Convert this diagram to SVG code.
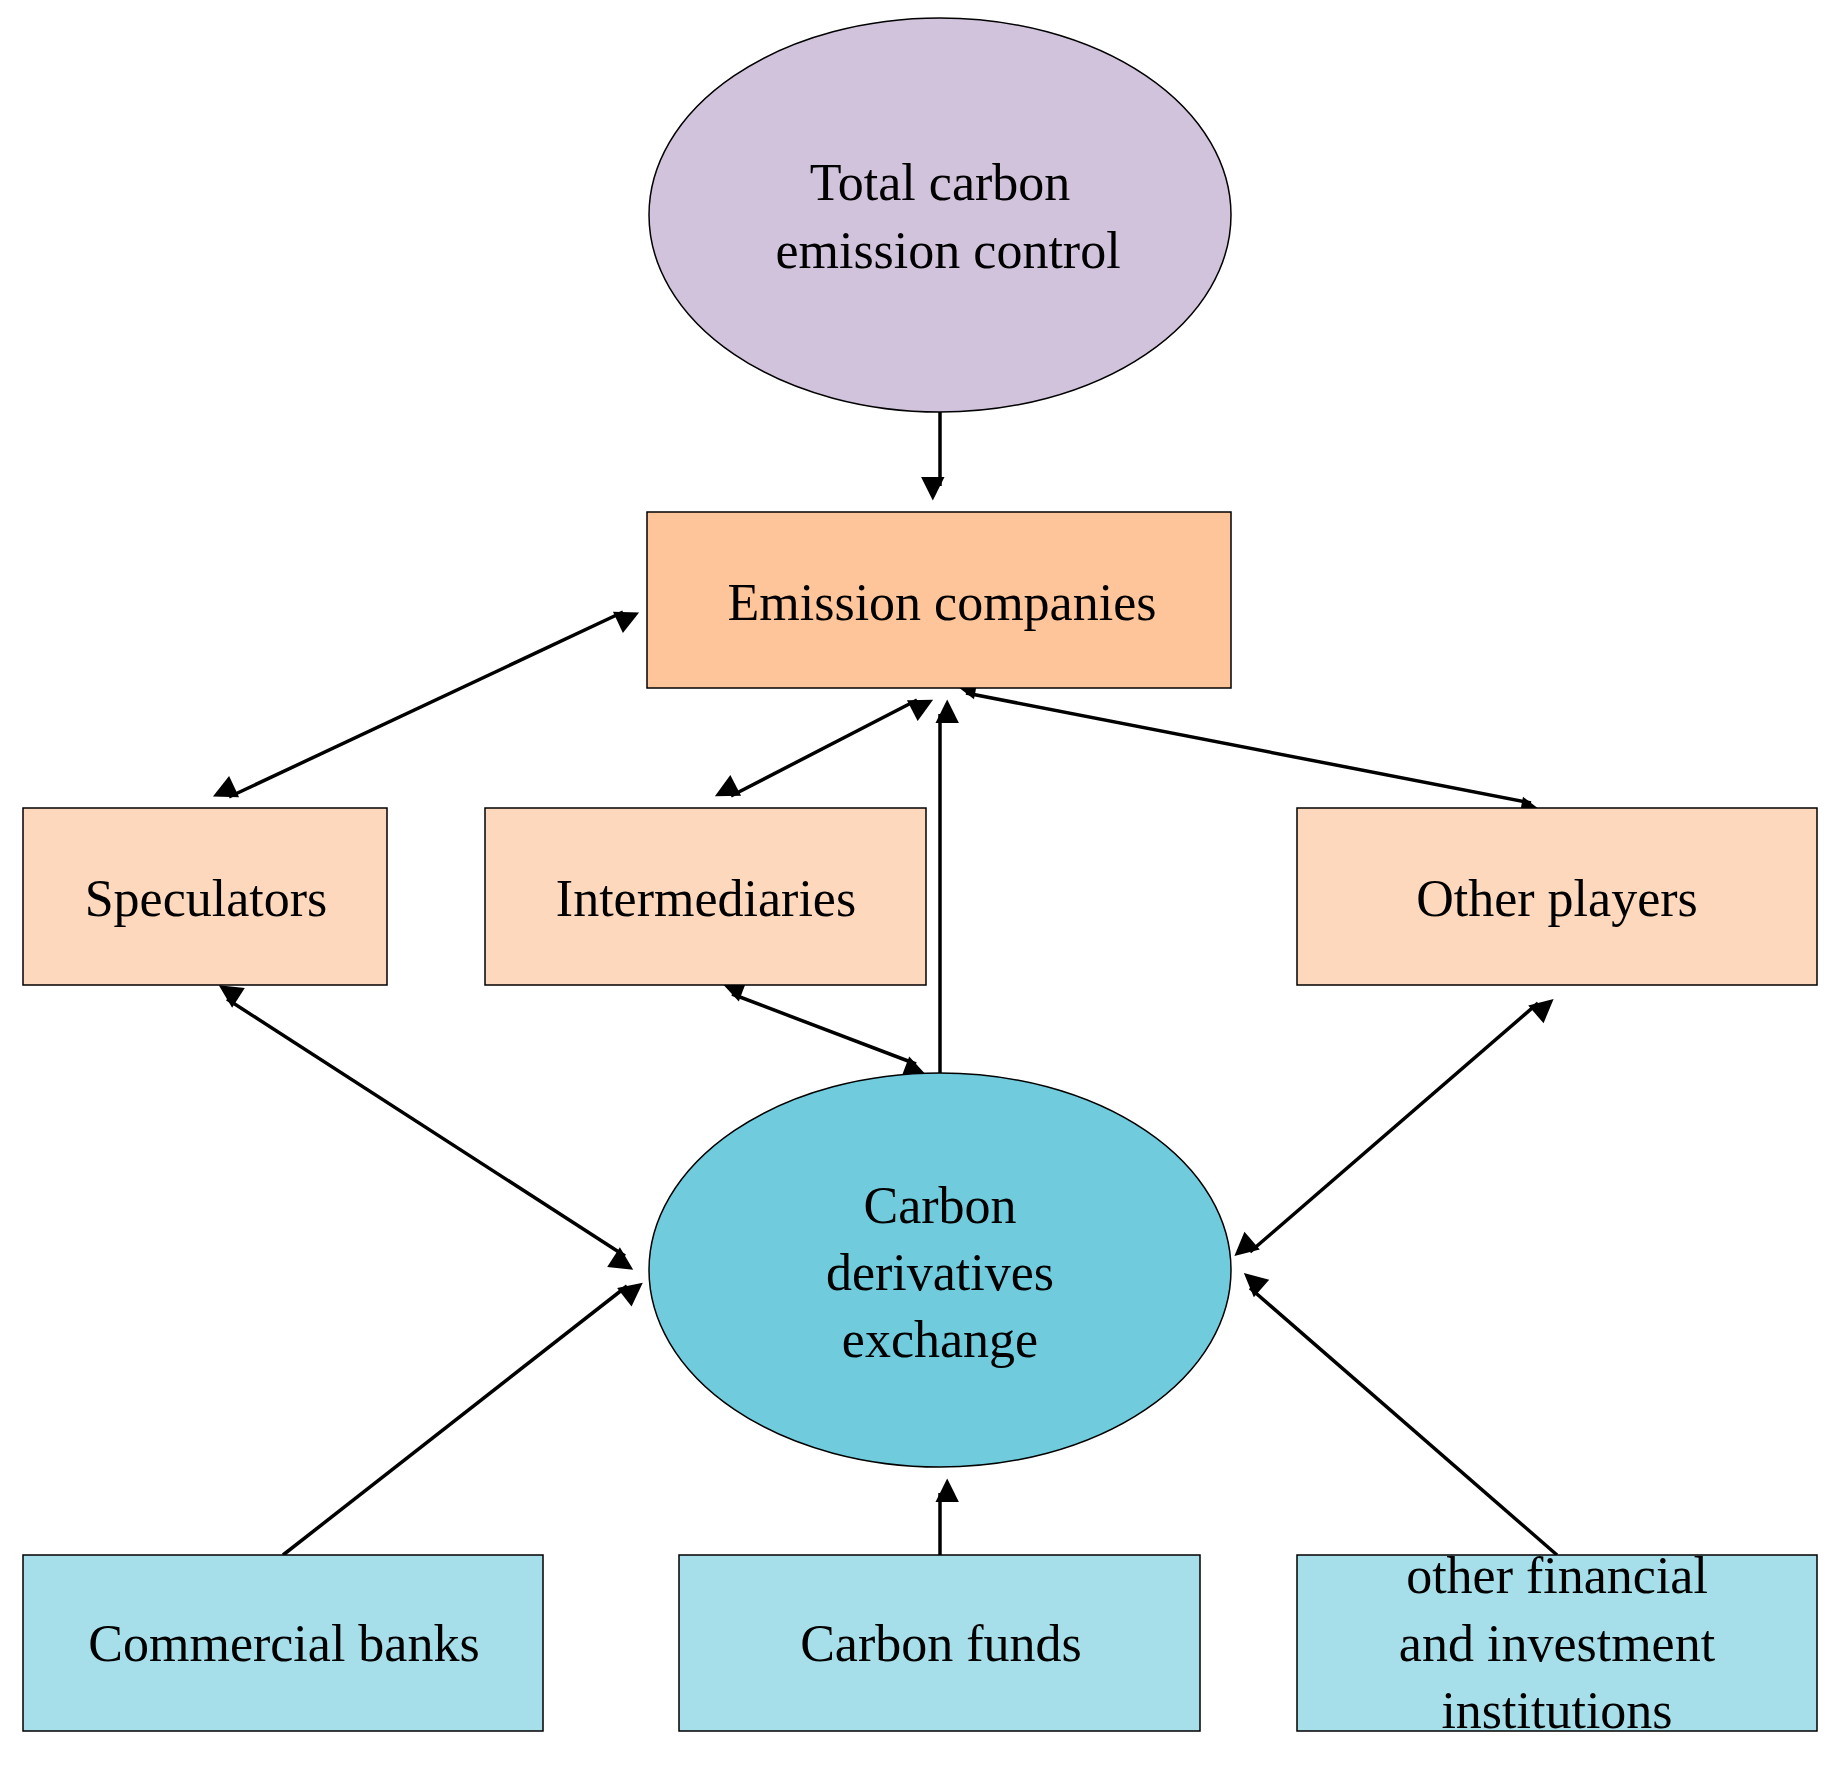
<svg xmlns="http://www.w3.org/2000/svg" width="1841" height="1766" viewBox="0 0 1841 1766">
<defs>
<marker id="ah" viewBox="0 0 10 10" refX="10" refY="5" markerWidth="9" markerHeight="9" orient="auto-start-reverse" markerUnits="userSpaceOnUse" style="overflow:visible">
<path d="M0,0 L10,5 L0,10 z" fill="#000" transform="scale(2.6) translate(-0,0)"/>
</marker>
</defs>
<style>
.n{stroke:#000;stroke-width:1.5}
.t{font-family:"Liberation Serif",serif;font-size:52px;text-anchor:middle;fill:#000}
.c{stroke:#000;stroke-width:3.5;fill:none}
</style>
<rect width="1841" height="1766" fill="#fff"/>
<g id="connectors">
<line class="c" x1="940" y1="412" x2="940" y2="486" marker-end="url(#ah)"/>
<line class="c" x1="229" y1="797" x2="623" y2="612" marker-start="url(#ah)" marker-end="url(#ah)"/>
<line class="c" x1="731" y1="796" x2="917" y2="700" marker-start="url(#ah)" marker-end="url(#ah)"/>
<line class="c" x1="1531" y1="803" x2="966" y2="693" marker-start="url(#ah)" marker-end="url(#ah)"/>
<line class="c" x1="940" y1="1073" x2="940" y2="714" marker-end="url(#ah)"/>
<line class="c" x1="227" y1="999" x2="625" y2="1256" marker-start="url(#ah)" marker-end="url(#ah)"/>
<line class="c" x1="732" y1="994" x2="916" y2="1064" marker-start="url(#ah)" marker-end="url(#ah)"/>
<line class="c" x1="1538" y1="1003" x2="1250" y2="1252" marker-start="url(#ah)" marker-end="url(#ah)"/>
<line class="c" x1="283" y1="1555" x2="627" y2="1286" marker-end="url(#ah)"/>
<line class="c" x1="940" y1="1555" x2="940" y2="1493" marker-end="url(#ah)"/>
<line class="c" x1="1557" y1="1555" x2="1250" y2="1288" marker-end="url(#ah)"/>
</g>
<g id="total"><ellipse class="n" cx="940" cy="215" rx="291" ry="197" fill="#d1c3dc"/><text class="t" x="940" y="200">Total carbon</text><text class="t" x="948" y="268">emission control</text></g>
<g id="emission"><rect class="n" x="647" y="512" width="584" height="176" fill="#fec49a"/><text class="t" x="942" y="620">Emission companies</text></g>
<g id="speculators"><rect class="n" x="23" y="808" width="364" height="177" fill="#fdd8bc"/><text class="t" x="206" y="916">Speculators</text></g>
<g id="intermediaries"><rect class="n" x="485" y="808" width="441" height="177" fill="#fdd8bc"/><text class="t" x="706" y="916">Intermediaries</text></g>
<g id="other"><rect class="n" x="1297" y="808" width="520" height="177" fill="#fdd8bc"/><text class="t" x="1557" y="916">Other players</text></g>
<g id="exchange"><ellipse class="n" cx="940" cy="1270" rx="291" ry="197" fill="#70ccdd"/><text class="t" x="940" y="1223">Carbon</text><text class="t" x="940" y="1290">derivatives</text><text class="t" x="940" y="1357">exchange</text></g>
<g id="banks"><rect class="n" x="23" y="1555" width="520" height="176" fill="#a6dfe9"/><text class="t" x="284" y="1661">Commercial banks</text></g>
<g id="funds"><rect class="n" x="679" y="1555" width="521" height="176" fill="#a6dfe9"/><text class="t" x="941" y="1661">Carbon funds</text></g>
<g id="otherfin"><rect class="n" x="1297" y="1555" width="520" height="176" fill="#a6dfe9"/><text class="t" x="1557" y="1593">other financial</text><text class="t" x="1557" y="1661">and investment</text><text class="t" x="1557" y="1728">institutions</text></g>
</svg>
